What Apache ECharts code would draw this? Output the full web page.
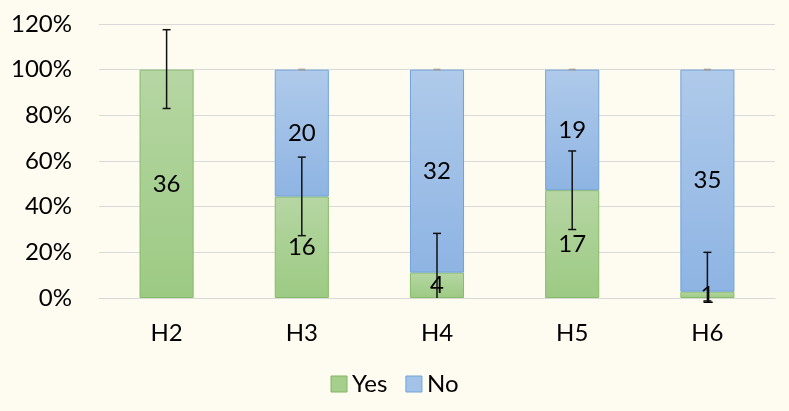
<!DOCTYPE html>
<html>
<head>
<meta charset="utf-8">
<script src="https://cdn.jsdelivr.net/npm/echarts@6/dist/echarts.min.js"></script>
<style>html,body{margin:0;padding:0;background:#FEFBF0;}#c{width:789px;height:411px;}</style>
</head>
<body>
<div id="c"></div>
<script>
var categories = ['H2', 'H3', 'H4', 'H5', 'H6'];
var yesCounts = [36, 16, 4, 17, 1];
var noCounts = [0, 20, 32, 19, 35];
var yTicks = [0, 20, 40, 60, 80, 100, 120];
// error bars on the "Yes" segment (percent)
var yesErrLow = [83, 27.3, 0, 30, -1.3];
var yesErrHigh = [117.5, 61.7, 28.3, 64.4, 20];
var yesErrLowCap = [1, 1, 0, 1, 1];
// zero-length error bars on top of "No" segment
var noErrAt = [null, 100, 100, 100, 100];

var yesPct = yesCounts.map(function (v, i) { return v / (v + noCounts[i]) * 100; });
var noPct = noCounts.map(function (v, i) { return v ? v / (v + yesCounts[i]) * 100 : '-'; });

var FONT = 'Lato';
var FS = 24;
var chart = echarts.init(document.getElementById('c'));

function grad(top, bottom) {
  return new echarts.graphic.LinearGradient(0, 0, 0, 1, [
    { offset: 0, color: top }, { offset: 1, color: bottom }
  ]);
}

var errData = categories.map(function (c, i) { return [i, yesErrLow[i], yesErrHigh[i], yesErrLowCap[i]]; });
var noErrData = categories.map(function (c, i) { return [i, noErrAt[i] == null ? NaN : noErrAt[i]]; });

chart.setOption({
  backgroundColor: '#FEFBF0',
  animation: false,
  textStyle: { fontFamily: FONT },
  grid: { left: 99, right: 14, top: 24, bottom: 113, containLabel: false },
  legend: {
    data: [
      { name: 'Yes', itemStyle: { color: '#A6CF8E', borderColor: '#7FB65F', borderWidth: 1 } },
      { name: 'No', itemStyle: { color: '#A3C2E8', borderColor: '#6FA3DA', borderWidth: 1 } }
    ],
    left: 'center', top: 367, itemWidth: 16, itemHeight: 16, itemGap: 18, icon: 'rect',
    textStyle: { fontFamily: FONT, fontSize: FS, color: '#000' }
  },
  xAxis: {
    type: 'category', data: categories,
    axisLine: { lineStyle: { color: '#D9D9D9', width: 1 } },
    axisTick: { show: false },
    axisLabel: { fontFamily: FONT, fontSize: FS, color: '#000', margin: 23 }
  },
  yAxis: {
    type: 'value', min: 0, max: 120, interval: 20,
    axisLine: { show: false }, axisTick: { show: false },
    splitLine: { lineStyle: { color: '#D9D9D9', width: 1 } },
    axisLabel: { fontFamily: FONT, fontSize: FS, color: '#000', margin: 27,
      formatter: function (v) { return yTicks.indexOf(v) >= 0 ? v + '%' : ''; } }
  },
  series: [
    {
      name: 'Yes', type: 'bar', stack: 's', barWidth: '40%',
      data: yesPct,
      itemStyle: { color: grad('#B6D6A3', '#9CCA83'), borderColor: '#86BB68', borderWidth: 1 },
      label: { show: true, position: 'inside', fontFamily: FONT, fontSize: FS, color: '#000',
        formatter: function (p) { return yesCounts[p.dataIndex] ? String(yesCounts[p.dataIndex]) : ''; } }
    },
    {
      name: 'No', type: 'bar', stack: 's', barWidth: '40%',
      data: noPct,
      itemStyle: { color: grad('#AFCAEA', '#8EB4E3'), borderColor: '#6FA3DA', borderWidth: 1 },
      label: { show: true, position: 'inside', fontFamily: FONT, fontSize: FS, color: '#000',
        formatter: function (p) { return noCounts[p.dataIndex] ? String(noCounts[p.dataIndex]) : ''; } }
    },
    {
      type: 'custom', z: 10, clip: false, silent: true,
      data: errData,
      renderItem: function (params, api) {
        var i = api.value(0);
        var lo = api.coord([i, api.value(1)]);
        var hi = api.coord([i, api.value(2)]);
        var cap = api.value(3);
        var hw = 4;
        var st = { stroke: '#111', lineWidth: 1.5 };
        var ch = [
          { type: 'line', shape: { x1: hi[0], y1: hi[1], x2: lo[0], y2: lo[1] }, style: st },
          { type: 'line', shape: { x1: hi[0] - hw, y1: hi[1], x2: hi[0] + hw, y2: hi[1] }, style: st }
        ];
        if (cap) ch.push({ type: 'line', shape: { x1: lo[0] - hw, y1: lo[1], x2: lo[0] + hw, y2: lo[1] }, style: st });
        return { type: 'group', children: ch };
      }
    },
    {
      type: 'custom', z: 9, clip: false, silent: true,
      data: noErrData,
      renderItem: function (params, api) {
        var v = api.value(1);
        if (isNaN(v)) return null;
        var p = api.coord([api.value(0), v]);
        return { type: 'line', shape: { x1: p[0] - 3.5, y1: p[1], x2: p[0] + 3.5, y2: p[1] },
          style: { stroke: '#A0A0A0', lineWidth: 2 } };
      }
    }
  ]
});
</script>
</body>
</html>
